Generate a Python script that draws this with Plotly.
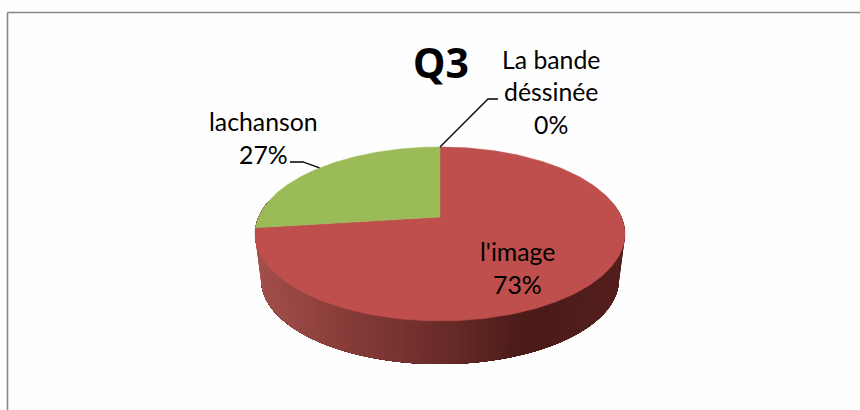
import numpy as np
import plotly.graph_objects as go

# ---- data ----
categories = ["La bande déssinée", "l'image", "lachanson"]
values = [0, 73, 27]
slice_colors = ["#4F81BD", "#BE4F4C", "#9BBB59"]
label_lines = [["La bande", "déssinée"], ["l'image"], ["lachanson"]]
title_text = "Q3"

# ---- pie geometry (pixels of the 860x410 page) ----
CX, CY = 440.0, 217.0     # apex of the pie on the top face
K = 0.195                 # perspective strength
R, S = 181.4, 83.7        # horizontal / vertical radius factors
DEPTH_SCALE, DEPTH_CX_Y = 0.967, 280.0
FONT = "Lato"


def rim(theta):
    """Projected rim point; theta is clockwise from 12 o'clock, in radians."""
    u, v = np.sin(theta), -np.cos(theta)
    d = 1 - K * v
    return CX + R * u / d, CY + S * v / d


def rim_low(theta):
    x, y = rim(theta)
    return CX + (x - CX) * DEPTH_SCALE, DEPTH_CX_Y + (y - 234.0) * DEPTH_SCALE


def side_color(x):
    stops_x = [262, 340, 440, 523, 618]
    stops_c = np.array([[163, 80, 76], [138, 62, 58], [107, 45, 42], [74, 27, 25], [84, 32, 30]])
    return "rgb(%d,%d,%d)" % tuple(np.interp(x, stops_x, stops_c[:, i]) for i in range(3))


fig = go.Figure()

# side wall of the disc: each band repaints from its start to the far end,
# so the shading has no seams between the bands
edge = np.arccos(K)       # theta of the widest point on the right
end = 2 * np.pi - edge
thetas = np.linspace(edge, end, 111)
for a, b in zip(thetas[:-1], thetas[1:]):
    t = np.linspace(a, end, 80)
    xt, yt = rim(t)
    xb, yb = rim_low(t)
    c = side_color(CX + (rim((a + b) / 2)[0] - CX) * DEPTH_SCALE)
    fig.add_trace(go.Scatter(
        x=np.r_[xt, xb[::-1]], y=np.r_[yt, yb[::-1]], mode="lines", fill="toself",
        fillcolor=c, line=dict(color=c, width=0), hoverinfo="skip", showlegend=False))

# top face slices, from 12 o'clock clockwise
total = sum(values)
cum = 0.0
mids = []
for name, v, col in zip(categories, values, slice_colors):
    a0 = cum / total * 2 * np.pi
    cum += v
    a1 = cum / total * 2 * np.pi
    mids.append((a0 + a1) / 2)
    if v > 0:
        t = np.linspace(a0, a1, 240)
        xr, yr = rim(t)
        fig.add_trace(go.Scatter(
            x=np.r_[CX, xr, CX], y=np.r_[CY, yr, CY], mode="lines", fill="toself",
            fillcolor=col, line=dict(color=col, width=0.5), name=name,
            hoverinfo="name", showlegend=False))

# leader lines, from the middle of the slice rim to an elbow next to the label
for mid, elbow in ((mids[0], [(488, 99), (498, 99)]), (mids[2], [(303, 162), (290, 162)])):
    x0, y0 = rim(mid)
    fig.add_trace(go.Scatter(
        x=[x0] + [p[0] for p in elbow], y=[y0] + [p[1] for p in elbow], mode="lines",
        line=dict(color="#000000", width=1.3), hoverinfo="skip", showlegend=False))

# labels
positions = [(551, 59, 32.5), (517, 251, 33), (263, 121, 33)]
for lines, v, (px, py, step) in zip(label_lines, values, positions):
    for i, txt in enumerate(lines + [f"{v}%"]):
        fig.add_annotation(x=px, y=py + i * step, text=txt, showarrow=False, xref="x", yref="y",
                           xanchor="center", yanchor="middle",
                           font=dict(family=FONT, size=24.8, color="#000000"))
fig.add_annotation(x=440.5, y=62, text=f"<b>{title_text}</b>", showarrow=False, xref="x", yref="y",
                   xanchor="center", yanchor="middle",
                   font=dict(family="Noto Sans", size=41, color="#000000"))

# frame: only the top and left edges show in the picture
frame = dict(color="#868686", width=1.6)
fig.add_shape(type="line", x0=7.5, x1=860, y0=12.5, y1=12.5, xref="x", yref="y", line=frame)
fig.add_shape(type="line", x0=7.5, x1=7.5, y0=12.5, y1=410, xref="x", yref="y", line=frame)

fig.update_layout(
    width=860, height=410, margin=dict(l=0, r=0, t=0, b=0),
    paper_bgcolor="#fefefe", plot_bgcolor="#fefefe", showlegend=False,
    xaxis=dict(range=[0, 860], visible=False, fixedrange=True),
    yaxis=dict(range=[410, 0], visible=False, fixedrange=True),
)
fig.write_html("out.html", config={"displayModeBar": False},
               post_script="document.body.style.margin='0';document.body.style.overflow='hidden';")
